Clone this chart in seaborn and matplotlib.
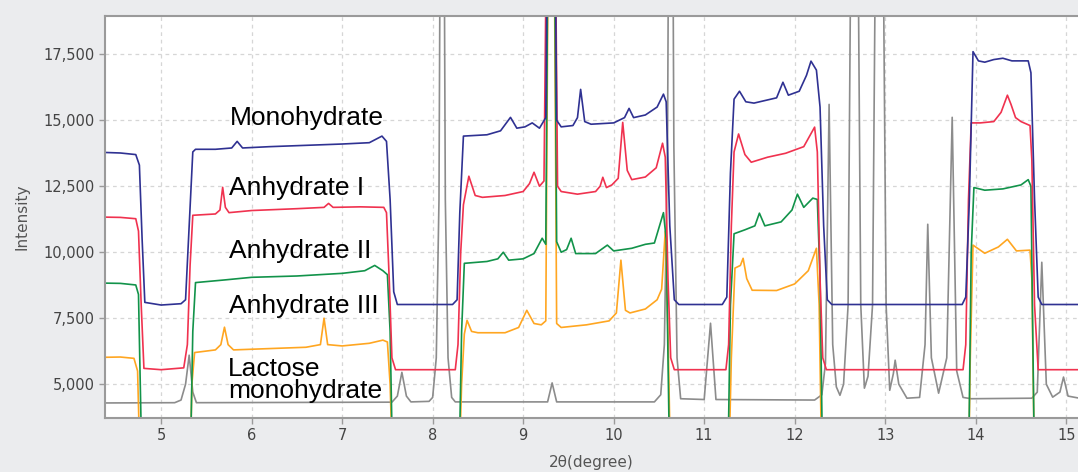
import numpy as np
import pandas as pd
import matplotlib
matplotlib.use("Agg")
import matplotlib.pyplot as plt
import matplotlib.ticker as mticker
import seaborn as sns

# === Data (vertices of each pattern) ===
lac_x = [4.38, 5.15, 5.22, 5.27, 5.31, 5.35, 5.39, 7.55, 7.61, 7.66, 7.71, 7.76, 7.96, 8.00, 8.04,
         8.07, 8.105, 8.14, 8.17, 8.21, 8.25, 9.27, 9.32, 9.37, 10.45, 10.52, 10.56, 10.595, 10.63,
         10.665, 10.70, 10.74, 11.00, 11.07, 11.13, 12.22, 12.30, 12.34, 12.38, 12.42, 12.46, 12.50,
         12.54, 12.59, 12.66, 12.73, 12.77, 12.81, 12.86, 12.935, 13.01, 13.05, 13.09, 13.11, 13.15,
         13.24, 13.38, 13.44, 13.47, 13.51, 13.59, 13.68, 13.74, 13.79, 13.86, 13.95, 14.62, 14.68,
         14.73, 14.78, 14.85, 14.93, 14.97, 15.02, 15.13]
lac_y = [4290, 4300, 4400, 5000, 6100, 4700, 4300, 4320, 4550, 5450, 4550, 4330, 4350, 4500, 6000,
         12000, 40000, 12000, 6000, 4500, 4330, 4330, 5050, 4330, 4330, 4600, 6500, 14000, 40000,
         14000, 6000, 4450, 4420, 7310, 4420, 4400, 4600, 5800, 15600, 6500, 4900, 4580,
         5000, 8000, 40000, 8000, 4850, 5300, 8000, 40000, 8000, 4770, 5400, 5910, 5000,
         4470, 4500, 6500, 11060, 6000, 4660, 6000, 15110, 5500, 4500, 4450, 4470, 4700,
         9620, 5000, 4510, 4700, 5270, 4550, 4480]

mono_x = [4.38, 4.55, 4.72, 4.76, 4.79, 4.82, 5.0, 5.22, 5.27, 5.31, 5.35, 5.38, 5.6, 5.78, 5.84,
          5.9, 6.2, 6.6, 7.0, 7.3, 7.44, 7.49, 7.53, 7.57, 7.61, 8.22, 8.27, 8.30, 8.34, 8.6, 8.75,
          8.86, 8.93, 9.02, 9.10, 9.18, 9.25, 9.31, 9.37, 9.42, 9.55, 9.60, 9.635, 9.68, 9.75, 10.0,
          10.12, 10.17, 10.22, 10.35, 10.48, 10.55, 10.58, 10.62, 10.67, 10.72, 11.20, 11.25, 11.29,
          11.33, 11.39, 11.46, 11.55, 11.8, 11.87, 11.93, 12.05, 12.13, 12.18, 12.24, 12.28, 12.32,
          12.36, 12.41, 13.85, 13.89, 13.93, 13.97, 14.03, 14.1, 14.2, 14.3, 14.4, 14.58, 14.61,
          14.65, 14.69, 14.73, 15.13]
mono_y = [13780, 13760, 13700, 13300, 10500, 8100, 8000, 8050, 8200, 11000, 13800, 13900, 13900,
          13950, 14200, 13950, 14000, 14050, 14100, 14150, 14400, 14200, 12000, 8500, 8020, 8020,
          8200, 11500, 14400, 14450, 14600, 15110, 14700, 14750, 14900, 14700, 15100, 40000, 15000,
          14750, 14800, 15100, 16170, 14950, 14850, 14900, 15100, 15450, 15100, 15200, 15500, 15990,
          15700, 11000, 8200, 8020, 8020, 8300, 13000, 15800, 16100, 15700, 15650, 15850, 16440,
          15950, 16100, 16700, 17240, 16900, 15500, 11000, 8200, 8020, 8020, 8300, 12000, 17600,
          17250, 17200, 17300, 17350, 17250, 17250, 16800, 12000, 8300, 8020, 8020]

an1_x = [4.38, 4.55, 4.72, 4.75, 4.78, 4.81, 5.0, 5.25, 5.29, 5.32, 5.35, 5.6, 5.65, 5.68, 5.71,
         5.75, 6.0, 6.5, 6.8, 6.85, 6.9, 7.2, 7.46, 7.49, 7.52, 7.55, 7.59, 8.25, 8.28, 8.31, 8.34,
         8.40, 8.47, 8.55, 8.8, 9.0, 9.07, 9.12, 9.18, 9.23, 9.31, 9.38, 9.42, 9.6, 9.8, 9.85, 9.88,
         9.92, 9.98, 10.05, 10.10, 10.15, 10.20, 10.35, 10.47, 10.54, 10.57, 10.60, 10.63, 10.67,
         11.24, 11.27, 11.30, 11.33, 11.38, 11.45, 11.52, 11.7, 11.9, 12.1, 12.22, 12.25, 12.28,
         12.31, 12.35, 13.86, 13.89, 13.92, 13.95, 14.05, 14.2, 14.28, 14.35, 14.39, 14.44, 14.5,
         14.6, 14.62, 14.65, 14.69, 15.13]
an1_y = [11330, 11320, 11270, 10800, 8000, 5600, 5550, 5620, 6500, 9500, 11400, 11450, 11600,
         12460, 11700, 11500, 11580, 11650, 11700, 11850, 11700, 11720, 11700, 11500, 9000, 6000,
         5550, 5550, 6500, 10000, 11800, 12880, 12150, 12080, 12150, 12300, 12600, 13030, 12500,
         12700, 40000, 12500, 12300, 12200, 12300, 12500, 12840, 12450, 12550, 12800, 14920, 13100,
         12750, 12850, 13200, 14130, 13600, 9000, 6000, 5550, 5550, 6500, 11000, 13800, 14480,
         13700, 13410, 13600, 13750, 14000, 14740, 13800, 9000, 6000, 5550, 5550, 6500, 12000,
         14900, 14900, 14950, 15300, 15950, 15600, 15100, 14950, 14800, 13500, 8000, 5550, 5550]

an2_x = [4.38, 4.55, 4.72, 4.75, 4.79, 5.32, 5.35, 5.38, 5.7, 6.0, 6.5, 7.0, 7.25, 7.36, 7.45, 7.5,
         7.53, 7.56, 8.29, 8.32, 8.35, 8.6, 8.72, 8.78, 8.84, 9.0, 9.12, 9.21, 9.25, 9.31, 9.37,
         9.42, 9.48, 9.53, 9.58, 9.8, 9.93, 10.0, 10.2, 10.35, 10.45, 10.55, 10.58, 10.62, 11.26,
         11.29, 11.33, 11.45, 11.56, 11.61, 11.67, 11.85, 11.97, 12.03, 12.10, 12.20, 12.25, 12.28,
         12.31, 13.92, 13.95, 13.98, 14.1, 14.3, 14.5, 14.58, 14.61, 14.65, 15.13]
an2_y = [8830, 8820, 8760, 8400, 1500, 1500, 7000, 8850, 8950, 9050, 9100, 9200, 9300, 9500, 9300,
         9150, 7000, 1500, 1500, 7000, 9580, 9650, 9750, 10000, 9700, 9750, 9950, 10530, 10300,
         40000, 10400, 10000, 10100, 10530, 9950, 9950, 10270, 10050, 10150, 10300, 10350, 11500,
         10500, 1500, 1500, 8000, 10700, 10850, 11000, 11480, 11000, 11150, 11600, 12200, 11700,
         12050, 12000, 9000, 1500, 1500, 10000, 12450, 12350, 12400, 12550, 12750, 12500, 1500, 1500]

an3_x = [4.38, 4.55, 4.70, 4.74, 4.77, 5.32, 5.34, 5.37, 5.6, 5.66, 5.70, 5.74, 5.8, 6.2, 6.6,
         6.76, 6.80, 6.84, 7.0, 7.3, 7.45, 7.5, 7.53, 7.56, 8.29, 8.32, 8.35, 8.38, 8.43, 8.5, 8.8,
         8.95, 9.04, 9.12, 9.2, 9.25, 9.31, 9.37, 9.42, 9.7, 9.95, 10.03, 10.08, 10.13, 10.18,
         10.35, 10.48, 10.53, 10.57, 10.60, 10.63, 11.27, 11.30, 11.34, 11.40, 11.43, 11.47, 11.53,
         11.8, 12.0, 12.15, 12.24, 12.27, 12.30, 13.92, 13.94, 13.97, 14.1, 14.25, 14.35, 14.45,
         14.6, 14.62, 14.65, 15.13]
an3_y = [6020, 6030, 5980, 5500, 1500, 1500, 5000, 6200, 6300, 6500, 7160, 6500, 6300, 6350, 6400,
         6500, 7500, 6500, 6450, 6550, 6670, 6600, 5000, 1500, 1500, 5000, 6900, 7420, 7000, 6950,
         6950, 7150, 7800, 7300, 7250, 7400, 40000, 7300, 7150, 7250, 7400, 7700, 9700, 7800, 7700,
         7850, 8200, 8600, 10800, 7000, 1500, 1500, 6000, 9400, 9500, 9770, 9000, 8560, 8550, 8800,
         9300, 10150, 8000, 1500, 1500, 6000, 10270, 9960, 10200, 10490, 10050, 10080, 9000, 1500,
         1500]

labels = ["Monohydrate", "Anhydrate I", "Anhydrate II", "Anhydrate III", "Lactose\nmonohydrate"]

# === Plot ===
sns.set_style("whitegrid", {"grid.linestyle": "--", "grid.color": "#d6d6d6",
                            "axes.edgecolor": "#9a9a9a"})
plt.rcParams["font.family"] = ["DejaVu Sans"]

fig = plt.figure(figsize=(10.78, 4.72), dpi=100, facecolor="#ebecee")
ax = fig.add_axes([105 / 1078, 1 - 418 / 472, 1 - 105 / 1078, (418 - 16) / 472])
ax.set_facecolor("white")

series = [
    (lac_x, lac_y, "#8c8c8c"),
    (an3_x, an3_y, "#ffa621"),
    (an2_x, an2_y, "#12934a"),
    (an1_x, an1_y, "#f0324f"),
    (mono_x, mono_y, "#2f3192"),
]
for xs, ys, col in series:
    d = pd.DataFrame({"x": xs, "y": ys})
    sns.lineplot(data=d, x="x", y="y", sort=False, estimator=None, color=col, lw=1.2, ax=ax)

ax.set_xlim(4.38, 15.13)
ax.set_ylim(3720, 18950)
ax.set_xticks(range(5, 16))
ax.set_yticks([5000, 7500, 10000, 12500, 15000, 17500])
ax.yaxis.set_major_formatter(mticker.StrMethodFormatter("{x:,.0f}"))
ax.tick_params(axis="both", labelsize=10.5, colors="#9a9a9a", labelcolor="#444444",
               length=4, width=1, direction="out", left=True, bottom=True)
ax.grid(True, linestyle=(0, (3, 3)), color="#d6d6d6", lw=0.9)
for s in ["left", "bottom", "top"]:
    ax.spines[s].set_color("#9a9a9a")
    ax.spines[s].set_linewidth(1.5)
ax.spines["right"].set_visible(False)

ax.set_xlabel("2θ(degree)", fontsize=11, color="#555555", labelpad=8)
ax.set_ylabel("Intensity", fontsize=11, color="#555555", labelpad=10)

lab_pos = [(5.76, 14810), (5.75, 12160), (5.75, 9770), (5.75, 7690), (5.74, 4470)]
for txt, (tx, ty) in zip(labels, lab_pos):
    ax.text(tx, ty, txt, fontsize=19, family="Liberation Sans", color="black",
            va="baseline", ha="left", linespacing=0.88)

plt.savefig("out.png", dpi=100, facecolor=fig.get_facecolor())
plt.close()
